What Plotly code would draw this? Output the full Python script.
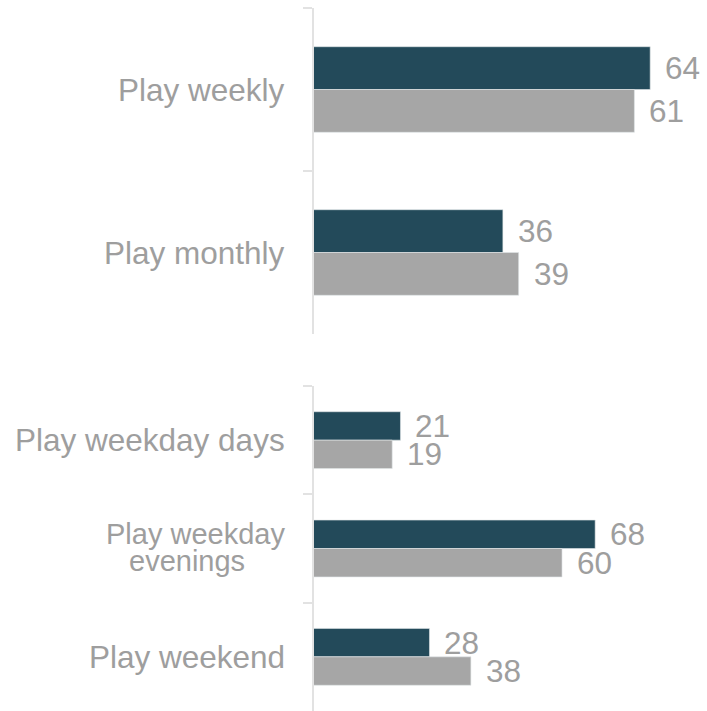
import plotly.graph_objects as go

# ---- data ----
top_categories = ["Play weekly", "Play monthly"]
top_series_a = [64, 36]
top_series_b = [61, 39]

bottom_categories = ["Play weekday days", "Play weekday<br>evenings", "Play weekend"]
bottom_series_a = [21, 68, 28]
bottom_series_b = [19, 60, 38]

# ---- style ----
DARK = "#234a5a"
GRAY = "#a6a6a6"
TEXT = "#9e9e9e"
AXIS = "#e2e2e2"
FONT = "Liberation Sans, Arial, sans-serif"
W, H = 707, 711
BARGAP = 0.475
X0 = 313.5 / W
LABEL_X = 287 / W

fig = go.Figure()

groups = [
    (top_categories, top_series_a, top_series_b, "x", "y"),
    (bottom_categories, bottom_series_a, bottom_series_b, "x2", "y2"),
]

for cats, a, b, xa, ya in groups:
    for vals, color in [(a, DARK), (b, GRAY)]:
        fig.add_trace(go.Bar(
            x=vals, y=cats, orientation="h",
            marker=dict(color=color, line=dict(color="rgba(225,230,232,0.8)", width=0.75)),
            xaxis=xa, yaxis=ya, showlegend=False, hoverinfo="skip",
        ))

annotations = []
half = (1 - BARGAP) / 4  # center offset of each bar in a pair
for cats, a, b, xa, ya in groups:
    for i, cat in enumerate(cats):
        lines = cat.split("<br>")
        if len(lines) == 1:
            annotations.append(dict(
                text=cat, xref="paper", x=LABEL_X, xanchor="right",
                yref=ya, y=i, yanchor="middle", showarrow=False,
                font=dict(family=FONT, size=31.5, color=TEXT),
            ))
        else:
            annotations.append(dict(
                text=lines[0], xref="paper", x=LABEL_X, xanchor="right",
                yref=ya, y=i, yanchor="middle", yshift=15, showarrow=False,
                font=dict(family=FONT, size=29, color=TEXT),
            ))
            annotations.append(dict(
                text=lines[1], xref="paper", x=187 / W, xanchor="center",
                yref=ya, y=i, yanchor="middle", yshift=-12, showarrow=False,
                font=dict(family=FONT, size=29, color=TEXT),
            ))
        for val, off in [(a[i], -half), (b[i], half)]:
            annotations.append(dict(
                text=str(val), xref=xa, x=val, xanchor="left", xshift=13,
                yref=ya, y=i + off, yanchor="middle", showarrow=False,
                font=dict(family=FONT, size=31.5, color=TEXT),
            ))

yaxis_common = dict(
    type="category", showline=True, linecolor=AXIS, linewidth=2,
    ticks="outside", tickson="boundaries", ticklen=9, tickwidth=2, tickcolor=AXIS,
    showticklabels=False, showgrid=False, zeroline=False, fixedrange=True,
)
xaxis_common = dict(visible=False, showgrid=False, zeroline=False, fixedrange=True)

fig.update_layout(
    width=W, height=H,
    margin=dict(l=0, r=0, t=0, b=0),
    paper_bgcolor="white", plot_bgcolor="white",
    barmode="group", bargap=BARGAP, bargroupgap=0,
    showlegend=False,
    xaxis=dict(domain=[X0, 1], range=[0, 74.8], anchor="y", **xaxis_common),
    yaxis=dict(domain=[1 - 334 / H, 1 - 8 / H], range=[1.5, -0.5], anchor="x", **yaxis_common),
    xaxis2=dict(domain=[X0, 1], range=[0, 95.0], anchor="y2", **xaxis_common),
    yaxis2=dict(domain=[0, 1 - 386 / H], range=[2.5, -0.5], anchor="x2", **yaxis_common),
    annotations=annotations,
)

fig.write_html("out.html", post_script="document.body.style.margin='0';",
               config={"displayModeBar": False})
